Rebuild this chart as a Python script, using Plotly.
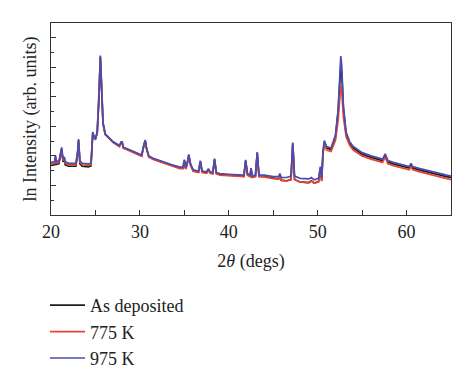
import plotly.graph_objects as go

two_theta = [20.0, 20.4, 20.5, 20.6, 20.9, 21.1, 21.2, 21.35, 21.5, 21.6, 22.0, 22.8, 23.0, 23.1, 23.25, 23.5,
             24.2, 24.5, 24.7, 24.85, 25.0, 25.2, 25.4, 25.55, 25.7, 25.85, 26.1, 26.4, 27.0, 27.7, 27.9, 28.0,
             28.15, 28.5, 29.5, 30.2, 30.45, 30.6, 30.75, 31.0, 31.5, 32.5, 33.5, 34.5, 34.85, 35.0, 35.15, 35.3,
             35.5, 35.7, 36.0, 36.6, 36.8, 37.0, 37.5, 37.7, 37.9, 38.2, 38.4, 38.6, 39.0, 40.0, 41.0, 41.7,
             41.9, 42.1, 42.4, 42.5, 42.65, 43.0, 43.2, 43.4, 44.0, 45.0, 45.6, 45.75, 45.9, 46.5, 47.0, 47.2,
             47.4, 48.0, 49.0, 49.3, 49.6, 50.1, 50.3, 50.45, 50.6, 50.75, 51.0, 51.5, 52.0, 52.3, 52.5, 52.6,
             52.7, 52.9, 53.2, 53.6, 54.0, 55.0, 56.0, 57.3, 57.6, 57.9, 58.5, 59.5, 60.3, 60.5, 60.7, 61.5,
             62.5, 63.5, 64.5, 65.0]

as_deposited = [1.68, 1.70, 1.94, 1.71, 1.74, 2.08, 2.22, 1.80, 1.88, 1.70, 1.65, 1.65, 2.08, 2.50, 1.74, 1.65,
                1.63, 1.66, 2.76, 2.60, 2.57, 2.77, 3.96, 5.36, 4.40, 3.10, 2.73, 2.63, 2.46, 2.33, 2.46, 2.46,
                2.27, 2.23, 2.09, 2.01, 2.36, 2.52, 2.25, 1.98, 1.90, 1.79, 1.69, 1.59, 1.59, 1.84, 1.57, 1.70,
                2.02, 1.70, 1.50, 1.46, 1.81, 1.46, 1.43, 1.54, 1.43, 1.41, 1.88, 1.41, 1.37, 1.35, 1.32, 1.31,
                1.84, 1.37, 1.31, 1.56, 1.28, 1.31, 2.10, 1.31, 1.30, 1.24, 1.22, 1.33, 1.18, 1.16, 1.20, 2.42,
                1.20, 1.12, 1.10, 1.16, 1.08, 1.13, 1.54, 1.16, 2.10, 2.47, 2.27, 2.22, 2.64, 3.48, 4.55, 5.05,
                4.85, 3.58, 2.76, 2.43, 2.27, 2.06, 1.95, 1.84, 2.02, 1.79, 1.73, 1.66, 1.59, 1.70, 1.59, 1.52,
                1.44, 1.38, 1.30, 1.27]

k775 = [1.73, 1.75, 1.98, 1.76, 1.79, 2.12, 2.25, 1.84, 1.92, 1.75, 1.70, 1.70, 2.12, 2.53, 1.79, 1.70,
        1.68, 1.70, 2.78, 2.62, 2.58, 2.78, 3.97, 5.32, 4.40, 3.10, 2.72, 2.62, 2.45, 2.32, 2.45, 2.45,
        2.26, 2.22, 2.08, 1.99, 2.35, 2.50, 2.24, 1.96, 1.88, 1.77, 1.67, 1.57, 1.57, 1.82, 1.55, 1.68,
        2.00, 1.68, 1.48, 1.44, 1.79, 1.44, 1.41, 1.52, 1.41, 1.39, 1.86, 1.39, 1.35, 1.33, 1.30, 1.30,
        1.82, 1.35, 1.30, 1.54, 1.27, 1.30, 2.08, 1.30, 1.29, 1.23, 1.22, 1.32, 1.17, 1.15, 1.20, 2.40,
        1.20, 1.12, 1.09, 1.15, 1.07, 1.12, 1.52, 1.15, 2.05, 2.42, 2.20, 2.15, 2.52, 3.20, 4.00, 4.37,
        4.20, 3.30, 2.65, 2.36, 2.20, 2.00, 1.89, 1.78, 1.96, 1.73, 1.67, 1.60, 1.53, 1.64, 1.53, 1.46,
        1.38, 1.32, 1.24, 1.20]

k975 = [1.78, 1.80, 2.02, 1.81, 1.84, 2.16, 2.29, 1.89, 1.97, 1.80, 1.75, 1.75, 2.16, 2.57, 1.84, 1.75,
        1.73, 1.75, 2.81, 2.65, 2.61, 2.81, 4.00, 5.40, 4.43, 3.13, 2.75, 2.65, 2.48, 2.35, 2.48, 2.48,
        2.29, 2.25, 2.11, 2.03, 2.38, 2.54, 2.27, 2.00, 1.92, 1.81, 1.71, 1.62, 1.62, 1.87, 1.60, 1.73,
        2.05, 1.73, 1.53, 1.49, 1.84, 1.49, 1.46, 1.57, 1.46, 1.44, 1.91, 1.44, 1.40, 1.38, 1.35, 1.35,
        1.87, 1.40, 1.35, 1.59, 1.32, 1.35, 2.13, 1.35, 1.35, 1.30, 1.30, 1.40, 1.27, 1.27, 1.32, 2.45,
        1.32, 1.24, 1.22, 1.27, 1.19, 1.24, 1.64, 1.27, 2.16, 2.52, 2.32, 2.27, 2.70, 3.56, 4.75, 5.38,
        5.08, 3.67, 2.81, 2.48, 2.32, 2.11, 2.00, 1.89, 2.07, 1.84, 1.78, 1.71, 1.64, 1.75, 1.64, 1.57,
        1.49, 1.43, 1.35, 1.32]

names = ["As deposited", "775 K", "975 K"]
colors = ["#1c1c1c", "#e8452e", "#4a4cb0"]
series = [as_deposited, k775, k975]

x_ticks = [20, 30, 40, 50, 60]

fig = go.Figure()
for name, col, ys in zip(names, colors, series):
    fig.add_trace(go.Scatter(x=two_theta, y=ys, mode="lines", name=name,
                             line=dict(color=col, width=1.7)))

serif = "Liberation Serif"
fig.update_layout(
    width=474, height=389,
    margin=dict(l=51, r=23, t=23, b=166),
    paper_bgcolor="white", plot_bgcolor="white",
    font=dict(family=serif, size=18, color="#222"),
    showlegend=True,
    legend=dict(x=-0.015, y=-0.375, xanchor="left", yanchor="top", itemwidth=35,
                font=dict(family=serif, size=18, color="#222"),
                bgcolor="rgba(0,0,0,0)", tracegroupgap=0),
    xaxis=dict(range=[20, 65], tickvals=x_ticks, ticks="inside", ticklen=5,
               tickcolor="#333", showline=True, linecolor="#333", linewidth=1.3,
               mirror=True, showgrid=False, zeroline=False, automargin=False,
               tickfont=dict(family=serif, size=18),
               minor=dict(dtick=5, tick0=20, ticks="inside", ticklen=5, tickcolor="#333"),
               title=dict(text="2<i>θ</i> (degs)", standoff=13,
                          font=dict(family=serif, size=18))),
    yaxis=dict(range=[0, 6.5], dtick=1, tick0=0, ticks="inside", ticklen=5,
               tickcolor="#333", showticklabels=False, showline=True, linecolor="#333",
               linewidth=1.3, mirror=True, showgrid=False, zeroline=False, automargin=False,
               minor=dict(dtick=0.5, ticks="inside", ticklen=3, tickcolor="#333"),
               title=dict(text="ln Intensity (arb. units)", standoff=8,
                          font=dict(family=serif, size=18))),
)

fig.write_html("out.html", config={"displayModeBar": False},
               post_script="document.body.style.margin='0';")
